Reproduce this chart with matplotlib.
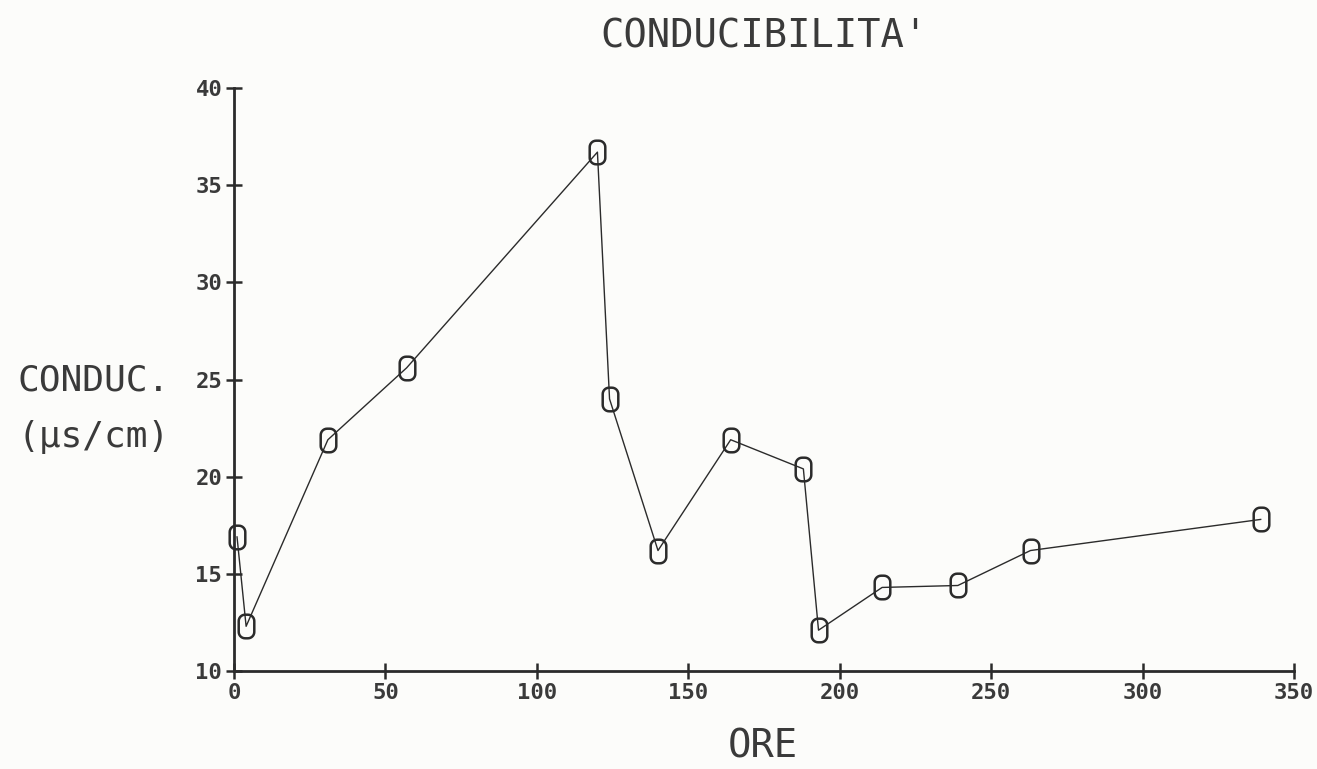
import numpy as np
import matplotlib
matplotlib.use("Agg")
import matplotlib.pyplot as plt
from matplotlib.path import Path

# Data (hours vs conductivity)
ore = [1, 4, 31, 57, 120, 124, 140, 164, 188, 193, 214, 239, 263, 339]
conduc = [16.9, 12.3, 21.9, 25.6, 36.7, 24.0, 16.2, 21.9, 20.4, 12.1, 14.3, 14.4, 16.2, 17.8]
xticks = [0, 50, 100, 150, 200, 250, 300, 350]
yticks = [10, 15, 20, 25, 30, 35, 40]

INK = "#2b2b2b"
TXT = "#3a3a3a"
BG = "#fcfcfa"

# rounded-rectangle marker shape (plotter "0")
def rounded_rect(w=0.66, h=1.0, r=0.27, n=8):
    pts = []
    corners = [(w/2 - r, h/2 - r, 0), (-w/2 + r, h/2 - r, 90),
               (-w/2 + r, -h/2 + r, 180), (w/2 - r, -h/2 + r, 270)]
    for cx, cy, a0 in corners:
        for t in np.linspace(np.radians(a0), np.radians(a0 + 90), n):
            pts.append((cx + r*np.cos(t), cy + r*np.sin(t)))
    pts.append(pts[0])
    codes = [Path.MOVETO] + [Path.LINETO]*(len(pts) - 2) + [Path.CLOSEPOLY]
    return Path(pts, codes)

marker = rounded_rect()

fig = plt.figure(figsize=(13.17, 7.69), dpi=100, facecolor=BG)
ax = fig.add_axes([234/1317, 1 - 671/769, 1060/1317, 583/769])
ax.set_facecolor(BG)

ax.plot(ore, conduc, color=INK, lw=1.0, marker=marker, ms=17, mfc="none",
        mec=INK, mew=1.8, clip_on=False, zorder=3)

ax.set_xlim(0, 350)
ax.set_ylim(10, 40)
ax.set_xticks(xticks)
ax.set_yticks(yticks)
for s in ["top", "right"]:
    ax.spines[s].set_visible(False)
for s in ["left", "bottom"]:
    ax.spines[s].set_linewidth(2.0)
    ax.spines[s].set_color(INK)
ax.tick_params(direction="inout", length=11, width=1.8, colors=INK,
               labelsize=16, pad=3)
for lab in ax.get_xticklabels() + ax.get_yticklabels():
    lab.set_fontweight("bold")
    lab.set_family("DejaVu Sans Mono")
    lab.set_color(TXT)

mono = "DejaVu Sans Mono"
fig.text(764/1317, 1 - 36/769, "CONDUCIBILITA'", ha="center", va="center",
         fontsize=28, family=mono, color=TXT)
fig.text(94/1317, 1 - 380/769, "CONDUC.", ha="center", va="center",
         fontsize=26, family=mono, color=TXT)
fig.text(94/1317, 1 - 437/769, "(µs/cm)", ha="center", va="center",
         fontsize=26, family=mono, color=TXT)
fig.text(763/1317, 1 - 746/769, "ORE", ha="center", va="center",
         fontsize=28, family=mono, color=TXT)

fig.savefig("out.png", dpi=100, facecolor=BG)
